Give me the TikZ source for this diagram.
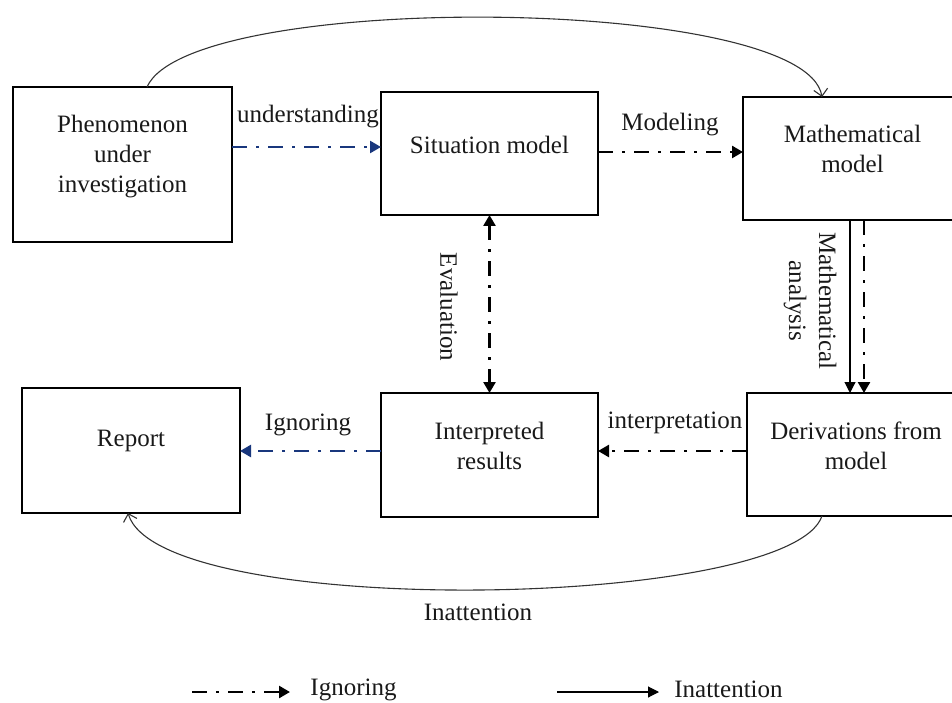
\documentclass[tikz,border=0pt]{standalone}
\usepackage{fontspec}
\setmainfont{Liberation Serif}
\usetikzlibrary{arrows.meta}
\definecolor{navy}{RGB}{25,55,125}
\begin{document}
\begin{tikzpicture}[x=1pt,y=-1pt,
  box/.style={draw, line width=2.5pt, outer sep=0pt, inner sep=0pt, rectangle},
  txt/.style={align=center, font=\fontsize{25}{30}\selectfont, inner sep=0pt, text=black!90},
  ign/.style={line width=2.5pt, dash pattern=on 15pt off 9pt on 3pt off 9pt, -{Triangle[length=11pt,width=12pt]}},
  ina/.style={line width=1.1pt, black!80, -{Straight Barb[length=7pt,width=14pt]}},
  sol/.style={line width=1.1pt, -{Triangle[length=11pt,width=11pt]}}]
\useasboundingbox (0,0) rectangle (952,703);
% boxes
\node[box, minimum width=219pt, minimum height=155pt] (phen) at (122.5,164.5) {};
\node[txt] (phent) at ([yshift=8pt]phen.center) {Phenomenon\\under\\investigation};
\node[box, minimum width=217pt, minimum height=123pt] (sit) at (489.5,153.5) {};
\node[txt] (sitt) at ([yshift=9pt]sit.center) {Situation model};
\node[box, minimum width=219pt, minimum height=123pt] (math) at (852.5,158.5) {};
\node[txt] (matht) at ([yshift=10pt]math.center) {Mathematical\\model};
\node[box, minimum width=218pt, minimum height=125pt] (rep) at (131,450.5) {};
\node[txt] (rept) at ([yshift=10pt]rep.center) {Report};
\node[box, minimum width=217pt, minimum height=124pt] (interp) at (489.5,455) {};
\node[txt] (interpt) at ([yshift=9pt]interp.center) {Interpreted\\results};
\node[box, minimum width=218pt, minimum height=123pt] (deriv) at (856,454.5) {};
\node[txt] (derivt) at ([yshift=9pt]deriv.center) {Derivations from\\model};
% connectors
\draw[ign, navy] ([yshift=17.5pt]phen.east) -- ([yshift=6.5pt]sit.west);
\draw[ign] ([yshift=1.5pt]sit.east) -- ([yshift=6.5pt]math.west);
\draw[ign, navy] ([yshift=4pt]interp.west) -- ([yshift=-0.5pt]rep.east);
\draw[ign] ([yshift=3.5pt]deriv.west) -- ([yshift=4pt]interp.east);
\draw[ign, {Triangle[length=11pt,width=12pt]}-{Triangle[length=11pt,width=12pt]}] (sit.south) -- (interp.north);
\draw[sol] ([xshift=-2.5pt]math.south) -- ([xshift=-6pt]deriv.north);
\draw[ign] ([xshift=11.5pt]math.south) -- ([xshift=8pt]deriv.north);
\draw[ina] ([xshift=24.5pt]phen.north) .. controls (190,-10) and (805,-5) .. ([xshift=-30.5pt]math.north);
\draw[ina] ([xshift=-34pt]deriv.south) .. controls (790,610) and (160,620) .. ([xshift=-3pt]rep.south);
% labels
\node[txt] (lu) at (308,117) {understanding};
\node[txt] (lm) at (670,125) {Modeling};
\node[txt, rotate=-90] (le) at (449,307) {Evaluation};
\node[txt, rotate=-90] (lma) at (810,301) {Mathematical\\analysis};
\node[txt] (li) at (308,425) {Ignoring};
\node[txt] (lint) at (675,423) {interpretation};
\node[txt] (lin) at (478,612) {Inattention};
% legend
\coordinate (g1a) at (192,692);
\coordinate (g1b) at (290,692);
\draw[ign] (g1a) -- (g1b);
\node[txt] (g1t) at (353.5,690) {Ignoring};
\coordinate (g2a) at (557,692);
\coordinate (g2b) at (659,692);
\draw[sol] (g2a) -- (g2b);
\node[txt] (g2t) at (728.5,689) {Inattention};
\end{tikzpicture}
\end{document}
